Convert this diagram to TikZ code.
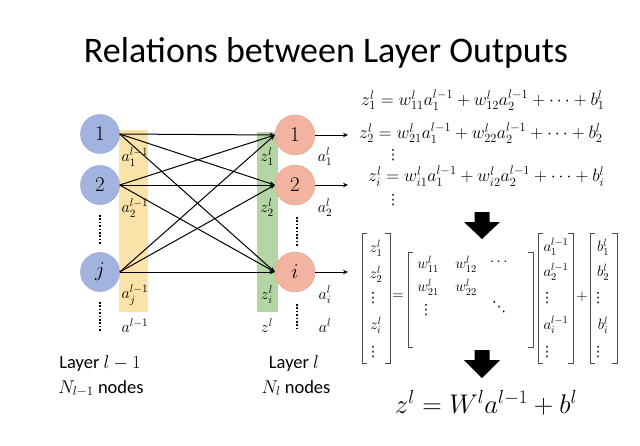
\RequirePackage{fix-cm}
\documentclass[tikz,border=0pt]{standalone}
\usepackage{amsmath}
\usepackage{fontspec}
\newfontfamily\carlito{Carlito}
\newfontfamily\dvsans{DejaVu Sans}
\usetikzlibrary{arrows.meta}
\definecolor{lblue}{HTML}{A3B3E0}
\definecolor{lbluedraw}{HTML}{8C9FD3}
\definecolor{salmon}{HTML}{F2B3A0}
\definecolor{salmondraw}{HTML}{E8A08A}
\definecolor{bandyellow}{HTML}{F9E3A8}
\definecolor{bandgreen}{HTML}{B5D5A5}
\newcommand{\myvd}{{\dvsans ⋮}}
\newcommand{\mydd}{{\dvsans ⋱}}
\tikzset{
  lnode/.style={circle, draw=lbluedraw, fill=lblue, minimum size=39pt, inner sep=0pt, font=\fontsize{21}{21}\selectfont},
  rnode/.style={circle, draw=salmondraw, fill=salmon, minimum size=40pt, inner sep=0pt, font=\fontsize{21}{21}\selectfont},
  edge/.style={line width=1pt, -{Stealth[length=5pt,width=4.5pt]}},
  dotline/.style={line width=2.2pt, dash pattern=on 1.6pt off 1.8pt},
  lab/.style={inner sep=0pt, font=\fontsize{16}{16}\selectfont},
  eqn/.style={inner sep=0pt, anchor=west, font=\fontsize{17.8}{17.8}\selectfont},
  ent/.style={inner sep=0pt, font=\fontsize{15}{15}\selectfont},
  dts/.style={inner sep=0pt, font=\fontsize{14}{14}\selectfont},
  brk/.style={line width=0.9pt, draw=black!70},
  sans/.style={inner sep=0pt, anchor=base, font=\carlito\fontsize{18.5}{18.5}\selectfont},
  blockarrow/.style={fill=black}
}
\begin{document}
\begin{tikzpicture}[x=1pt,y=-1pt]
\useasboundingbox (0,0) rectangle (640,445);
\fill[white] (0,0) rectangle (640,445);

% title
\node[inner sep=0pt, anchor=base, font=\carlito\fontsize{36}{36}\selectfont] (title) at (326,62) {Relations between Layer Outputs};

% bands
\fill[bandyellow] (119,130) rectangle (148,312);
\fill[bandgreen] (257,132) rectangle (278,312);

% nodes
\node[lnode] (L1) at (100,134) {1};
\node[lnode] (L2) at (100,185) {2};
\node[lnode] (Lj) at (100,272) {$j$};
\node[rnode] (R1) at (295,135) {1};
\node[rnode] (R2) at (295,185) {2};
\node[rnode] (Ri) at (295,272) {$i$};

% edges
\foreach \a in {L1,L2,Lj}{
  \foreach \b in {R1,R2,Ri}{
    \draw[edge] (\a.east) -- (\b.west);
  }
}
\coordinate (o1) at (348,135);
\coordinate (o2) at (348,185);
\coordinate (oi) at (348,272);
\draw[edge] (R1.east) -- (o1);
\draw[edge] (R2.east) -- (o2);
\draw[edge] (Ri.east) -- (oi);

% vertical dots
\draw[dotline] (100,215) -- (100,245);
\draw[dotline] (100,302) -- (100,331);
\draw[dotline] (297,217) -- (297,246);
\draw[dotline] (297,304) -- (297,331);

% labels
\node[lab] (la1) at (135,157) {$a_1^{l-1}$};
\node[lab] (la2) at (135,208) {$a_2^{l-1}$};
\node[lab] (laj) at (135,295) {$a_j^{l-1}$};
\node[lab] (la)  at (135,326) {$a^{l-1}$};
\node[lab] (lz1) at (267,157) {$z_1^l$};
\node[lab] (lz2) at (267,208) {$z_2^l$};
\node[lab] (lzi) at (267,295) {$z_i^l$};
\node[lab] (lz)  at (267,326) {$z^l$};
\node[lab] (ra1) at (325,157) {$a_1^l$};
\node[lab] (ra2) at (325,208) {$a_2^l$};
\node[lab] (rai) at (325,295) {$a_i^l$};
\node[lab] (ra)  at (325,326) {$a^l$};

% layer captions
\node[sans] (cap1) at (100,368) {Layer $l-1$};
\node[sans] (cap2) at (101,393) {$N_{l-1}$ nodes};
\node[sans] (cap3) at (294,368) {Layer $l$};
\node[sans] (cap4) at (296,393) {$N_l$ nodes};

% equations
\node[eqn] (eq1) at (361,100) {$z_1^l = w_{11}^l a_1^{l-1} + w_{12}^l a_2^{l-1} + \cdots + b_1^l$};
\node[eqn] (eq2) at (359,133) {$z_2^l = w_{21}^l a_1^{l-1} + w_{22}^l a_2^{l-1} + \cdots + b_2^l$};
\node[eqn] (eq3) at (368,176) {$z_i^l = w_{i1}^l a_1^{l-1} + w_{i2}^l a_2^{l-1} + \cdots + b_i^l$};
\node[dts] (vd1) at (393,155) {\myvd};
\node[dts] (vd2) at (393,200) {\myvd};

% block arrows
\fill[blockarrow] (474.5,212) -- (489.5,212) -- (489.5,222) -- (500,222) -- (482,239) -- (464,222) -- (474.5,222) -- cycle;
\fill[blockarrow] (474.5,350) -- (489.5,350) -- (489.5,360) -- (500,360) -- (482,378) -- (464,360) -- (474.5,360) -- cycle;

% z vector
\draw[brk] (367,233) -- (362,233) -- (362,363) -- (367,363);
\draw[brk] (385,233) -- (390,233) -- (390,363) -- (385,363);
\node[ent] (z1) at (376,248) {$z_1^l$};
\node[ent] (z2) at (376,274) {$z_2^l$};
\node[dts] (zd1) at (373,298) {\myvd};
\node[ent] (zi) at (376,325) {$z_i^l$};
\node[dts] (zd2) at (373,352) {\myvd};
\node[ent] (eqs) at (398,297) {$=$};

% W matrix
\draw[brk] (413,252) -- (408,252) -- (408,347) -- (413,347);
\draw[brk] (528,252) -- (533,252) -- (533,347) -- (528,347);
\node[ent] (w11) at (428,264) {$w_{11}^l$};
\node[ent] (w12) at (466,264) {$w_{12}^l$};
\node[ent] (wc) at (500,262) {$\cdots$};
\node[ent] (w21) at (428,287) {$w_{21}^l$};
\node[ent] (w22) at (466,287) {$w_{22}^l$};
\node[dts] (wv) at (426,310) {\myvd};
\node[dts] (wd) at (499,307) {\mydd};

% a vector
\draw[brk] (543,233) -- (538,233) -- (538,363) -- (543,363);
\draw[brk] (568,233) -- (573,233) -- (573,363) -- (568,363);
\node[ent] (a1) at (556,247) {$a_1^{l-1}$};
\node[ent] (a2) at (556,272) {$a_2^{l-1}$};
\node[dts] (ad1) at (547,298) {\myvd};
\node[ent] (ai) at (556,325) {$a_i^{l-1}$};
\node[dts] (ad2) at (547,352) {\myvd};
\node[ent] (pl) at (582,297) {$+$};

% b vector
\draw[brk] (595,233) -- (590,233) -- (590,363) -- (595,363);
\draw[brk] (612,233) -- (617,233) -- (617,363) -- (612,363);
\node[ent] (b1) at (603,247) {$b_1^l$};
\node[ent] (b2) at (603,272) {$b_2^l$};
\node[dts] (bd1) at (598,298) {\myvd};
\node[ent] (bi) at (603,325) {$b_i^l$};
\node[dts] (bd2) at (598,352) {\myvd};

% final equation
\node[inner sep=0pt, font=\fontsize{27}{27}\selectfont] (final) at (486,403) {$z^l = W^l a^{l-1} + b^l$};
\end{tikzpicture}
\end{document}
